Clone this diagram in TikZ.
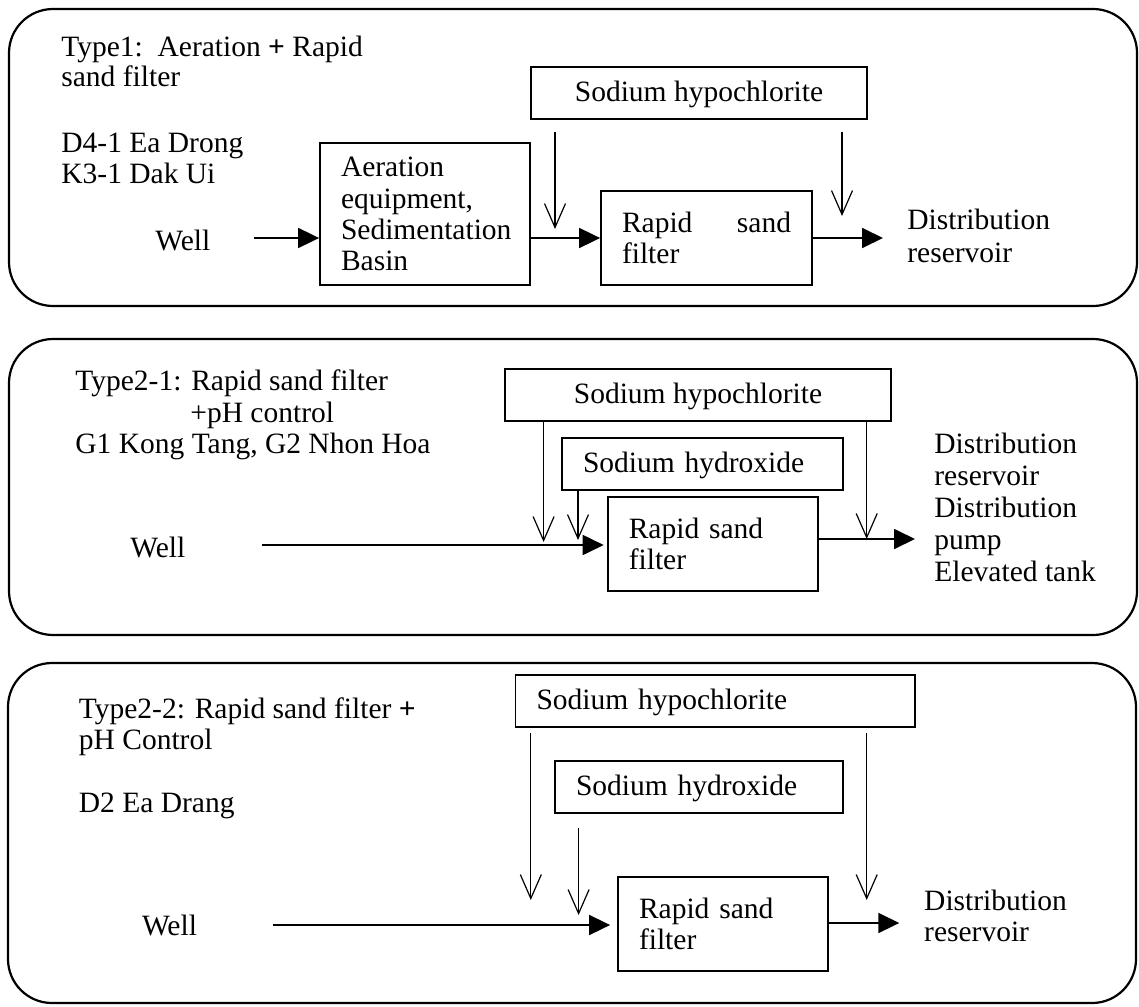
\documentclass[tikz,border=0pt]{standalone}
\usepackage{fontspec}
\setmainfont{Liberation Serif}
\usetikzlibrary{arrows.meta}
\begin{document}
\begin{tikzpicture}[x=0.5pt,y=-0.5pt,
  font=\fontsize{14.75pt}{15.6pt}\selectfont,
  panel/.style={draw, line width=1.1pt, rounded corners=22pt},
  box/.style={draw, line width=0.9pt, rectangle, inner xsep=10.5pt, inner ysep=0pt, align=left},
  chem/.style={box, text height=12pt, text depth=3.2pt},
  lbl/.style={anchor=base west, inner sep=0pt},
  flow/.style={line width=0.9pt, -{Triangle[length=10.5pt,width=10pt]}},
  feed/.style={line width=0.6pt, -{Straight Barb[length=12pt,width=10.5pt]}},
]
\useasboundingbox (0,0) rectangle (1139,1006);

% frames of the three treatment types
\draw[panel] (9,9) rectangle (1137,306);
\draw[panel] (9,339) rectangle (1137,635);
\draw[panel] (8,663) rectangle (1136,1003);

% ---------- Type 1 ----------
\node[lbl] (t1a) at (61,57) {Type1:\ \ Aeration \textbf{+} Rapid};
\node[lbl] (t1b) at (61,87) {sand filter};
\node[lbl] (t1c) at (61,152) {D4-1 Ea Drong};
\node[lbl] (t1d) at (61,183) {K3-1 Dak Ui};
\node[lbl] (well1) at (155,250) {Well};
\coordinate (w1) at (254,238);
\node[box, minimum width=105pt, minimum height=71pt, text width=84pt] (aer) at (425,214)
  {Aeration\\equipment,\\Sedimentation\\Basin};
\node[chem, minimum width=168pt, minimum height=26pt, align=center] (hyp1) at (699,93) {Sodium hypochlorite};
\node[box, minimum width=105.5pt, minimum height=47pt, text width=84.5pt] (rsf1) at (706.5,238)
  {\makebox[84.5pt][l]{Rapid\hfill sand}\\filter};
\coordinate (o1) at (883,238);
\coordinate (f1a) at (555,229);
\coordinate (f1b) at (842,216);
\node[lbl] (d1a) at (907,229) {Distribution};
\node[lbl] (d1b) at (907,262) {reservoir};

\draw[flow] (w1) -- (w1 -| aer.west);
\draw[flow] (aer.east |- rsf1.west) -- (rsf1.west);
\draw[flow] (rsf1.east) -- (o1);
\draw[feed, shorten <=6pt] (hyp1.south -| f1a) -- (f1a);
\draw[feed, shorten <=6pt] (hyp1.south -| f1b) -- (f1b);

% ---------- Type 2-1 ----------
\node[lbl] (t2a) at (75,390) {Type2-1: Rapid sand filter};
\node[lbl] (t2b) at (190,422) {+pH control};
\node[lbl] (t2c) at (75,453) {G1 Kong Tang, G2 Nhon Hoa};
\node[lbl] (well2) at (130,557) {Well};
\coordinate (w2) at (262,545);
\node[chem, minimum width=193pt, minimum height=26pt, align=center] (hyp2) at (698,395) {Sodium hypochlorite};
\node[chem, minimum width=140.5pt, minimum height=26pt, text width=119.5pt] (hyd2) at (702.5,464) {Sodium hydroxide};
\node[box, minimum width=105.2pt, minimum height=47pt, text width=84pt] (rsf2) at (712.8,544) {Rapid sand\\filter};
\coordinate (f2a) at (543.6,542);
\coordinate (f2b) at (578,540);
\coordinate (f2c) at (866.7,539);
\coordinate (o2) at (915,539);
\node[lbl] (d2a) at (934,453) {Distribution};
\node[lbl] (d2b) at (934,485) {reservoir};
\node[lbl] (d2c) at (934,517) {Distribution};
\node[lbl] (d2d) at (934,549) {pump};
\node[lbl] (d2e) at (934,581) {Elevated tank};

\draw[flow, shorten >=1.5pt] (w2) -- (w2 -| rsf2.west);
\draw[flow] (rsf2.east |- o2) -- (o2);
\draw[feed] (hyp2.south -| f2a) -- (f2a);
\draw[feed] (hyd2.south -| f2b) -- (f2b);
\draw[feed] (hyp2.south -| f2c) -- (f2c);

% ---------- Type 2-2 ----------
\node[lbl] (t3a) at (78.5,718) {Type2-2: Rapid sand filter \textbf{+}};
\node[lbl] (t3b) at (78.5,749) {pH Control};
\node[lbl] (t3c) at (78.5,812) {D2 Ea Drang};
\node[lbl] (well3) at (141.6,935) {Well};
\coordinate (w3) at (272.5,925);
\node[chem, minimum width=199.75pt, minimum height=26pt, text width=178.75pt] (hyp3) at (715.25,701) {Sodium hypochlorite};
\node[chem, minimum width=144pt, minimum height=26pt, text width=123pt] (hyd3) at (699,787) {Sodium hydroxide};
\node[box, minimum width=105pt, minimum height=47pt, text width=84pt] (rsf3) at (723,924) {Rapid sand\\filter};
\coordinate (f3a) at (530.8,900);
\coordinate (f3b) at (578.6,915);
\coordinate (f3c) at (866.7,900);
\coordinate (o3) at (899.3,923);
\node[lbl] (d3a) at (923.8,910) {Distribution};
\node[lbl] (d3b) at (923.8,941.7) {reservoir};

\draw[flow, shorten >=3.5pt] (w3) -- (w3 -| rsf3.west);
\draw[flow] (rsf3.east |- o3) -- (o3);
\draw[feed, shorten <=2.5pt] (hyp3.south -| f3a) -- (f3a);
\draw[feed, shorten <=7pt] (hyd3.south -| f3b) -- (f3b);
\draw[feed, shorten <=2.5pt] (hyp3.south -| f3c) -- (f3c);
\end{tikzpicture}
\end{document}
